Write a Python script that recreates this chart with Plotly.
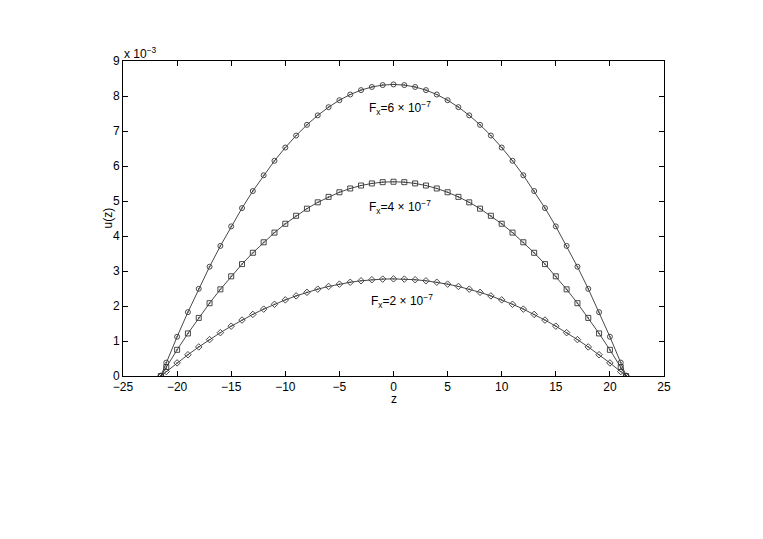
import plotly.graph_objects as go

# Posições z dos nós (unidades de rede)
z = [-21.5, -21, -20, -19, -18, -17, -16, -15, -14, -13, -12, -11, -10, -9, -8, -7,
     -6, -5, -4, -3, -2, -1, 0, 1, 2, 3, 4, 5, 6, 7, 8, 9, 10, 11, 12, 13, 14, 15,
     16, 17, 18, 19, 20, 21, 21.5]

# Perfis de velocidade u(z) (unidades de 1e-3)
u_fx6 = [0.0, 0.383, 1.122, 1.824, 2.491, 3.122, 3.717, 4.275, 4.798, 5.285, 5.735,
         6.149, 6.528, 6.870, 7.176, 7.447, 7.681, 7.880, 8.042, 8.168, 8.258, 8.312,
         8.330, 8.312, 8.258, 8.168, 8.042, 7.880, 7.681, 7.447, 7.176, 6.870, 6.528,
         6.149, 5.735, 5.285, 4.798, 4.275, 3.717, 3.122, 2.491, 1.824, 1.122, 0.383, 0.0]
u_fx4 = [0.0, 0.255, 0.748, 1.216, 1.660, 2.080, 2.476, 2.848, 3.197, 3.521, 3.821,
         4.097, 4.350, 4.578, 4.781, 4.962, 5.118, 5.250, 5.358, 5.442, 5.502, 5.538,
         5.550, 5.538, 5.502, 5.442, 5.358, 5.250, 5.118, 4.962, 4.781, 4.578, 4.350,
         4.097, 3.821, 3.521, 3.197, 2.848, 2.476, 2.080, 1.660, 1.216, 0.748, 0.255, 0.0]
u_fx2 = [0.0, 0.127, 0.374, 0.608, 0.830, 1.040, 1.238, 1.424, 1.598, 1.760, 1.911,
         2.049, 2.175, 2.289, 2.391, 2.481, 2.559, 2.625, 2.679, 2.721, 2.751, 2.769,
         2.775, 2.769, 2.751, 2.721, 2.679, 2.625, 2.559, 2.481, 2.391, 2.289, 2.175,
         2.049, 1.911, 1.760, 1.598, 1.424, 1.238, 1.040, 0.830, 0.608, 0.374, 0.127, 0.0]

# Rótulos das curvas
rotulos = ["F<sub>x</sub>=6 × 10<sup>−7</sup>",
           "F<sub>x</sub>=4 × 10<sup>−7</sup>",
           "F<sub>x</sub>=2 × 10<sup>−7</sup>"]
rotulo_z = [-2.45, -2.45, -2.3]
rotulo_u = [7.66e-3, 4.83e-3, 2.14e-3]

y_ticks = list(range(0, 10))

FONTE = "Liberation Sans, Arial, sans-serif"
COR = "#333333"

fig = go.Figure()
for u, simbolo in [(u_fx6, "circle-open-dot"), (u_fx4, "square-open-dot"), (u_fx2, "diamond-open-dot")]:
    fig.add_trace(go.Scatter(
        x=z, y=[v * 1e-3 for v in u],
        mode="lines+markers",
        line=dict(color=COR, width=0.9),
        marker=dict(symbol=simbolo, size=5, color=COR, line=dict(color=COR, width=0.9)),
        showlegend=False
    ))

for texto, xz, yu in zip(rotulos, rotulo_z, rotulo_u):
    fig.add_annotation(x=xz, y=yu, text=texto, showarrow=False,
                       xanchor="left", yanchor="middle",
                       font=dict(family=FONTE, size=12, color="black"))

# Multiplicador do eixo y e títulos dos eixos (estilo MATLAB)
fig.add_annotation(x=0, y=1, xref="paper", yref="paper", text="x 10<sup>−3</sup>",
                   showarrow=False, xanchor="left", yanchor="bottom", xshift=-1, yshift=-2,
                   font=dict(family=FONTE, size=12, color="black"))
fig.add_annotation(x=0.5, y=0, xref="paper", yref="paper", text="z",
                   showarrow=False, xanchor="center", yanchor="middle", yshift=-23,
                   font=dict(family=FONTE, size=12, color="black"))
fig.add_annotation(x=0, y=0.5, xref="paper", yref="paper", text="u(z)", textangle=-90,
                   showarrow=False, xanchor="center", yanchor="middle", xshift=-16,
                   font=dict(family=FONTE, size=12, color="black"))

eixo = dict(showline=True, mirror="ticks", linecolor="black", linewidth=1,
            ticks="inside", ticklen=5, tickcolor="black", tickwidth=1,
            showgrid=False, zeroline=False,
            tickfont=dict(family=FONTE, size=12, color="black"))

fig.update_xaxes(range=[-25, 25], tickmode="array", tickvals=list(range(-25, 30, 5)), **eixo)
fig.update_yaxes(range=[0, 0.009], tickmode="array",
                 tickvals=[t * 1e-3 for t in y_ticks], ticktext=[str(t) for t in y_ticks], **eixo)

# A página tem margem de 8 px; a figura é reduzida para caber na janela
fig.update_layout(
    width=755, height=531,
    margin=dict(l=115, r=99, t=53, b=163),
    paper_bgcolor="white", plot_bgcolor="white",
    font=dict(family=FONTE, size=12, color="black")
)

fig.write_html("out.html")
